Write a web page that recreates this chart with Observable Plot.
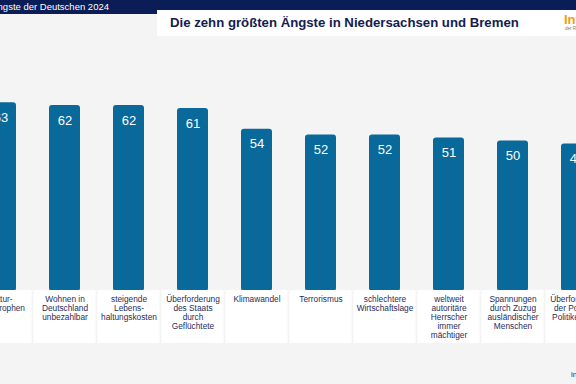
<!DOCTYPE html>
<html>
<head>
<meta charset="utf-8">
<script src="https://cdn.jsdelivr.net/npm/d3@7"></script>
<script src="https://cdn.jsdelivr.net/npm/@observablehq/plot@0.6"></script>
<style>
  html, body { margin: 0; padding: 0; overflow: hidden; background: #f4f4f4; }
  #wrap { position: relative; width: 576px; height: 384px; overflow: hidden; font-family: "Liberation Sans", Arial, sans-serif; }
  #chart { position: absolute; left: 0; top: 0; }
  .band-left { position: absolute; left: 0; top: 0; width: 157px; height: 14px; background: #0a1d57; }
  .band-right { position: absolute; left: 157px; top: 0; width: 419px; height: 10px; background: #0a1d57; }
  .supertitle { position: absolute; right: 467px; top: 1px; color: #fff; font-size: 9.5px; white-space: nowrap; line-height: 12px; }
  .titlebox { position: absolute; left: 157px; top: 10px; width: 419px; height: 26px; background: #fff; }
  .title { position: absolute; left: 170px; top: 15px; color: #14204f; font-size: 13.2px; line-height: 16px; font-weight: bold; white-space: nowrap; }
  .logo { position: absolute; left: 564px; top: 12px; color: #f2a100; font-size: 13px; line-height: 15px; font-weight: bold; white-space: nowrap; }
  .logo-sub { position: absolute; left: 565px; top: 26px; color: #777; font-size: 4.5px; white-space: nowrap; }
  .source { position: absolute; left: 571px; top: 370px; color: #333; font-size: 8px; white-space: nowrap; }
</style>
</head>
<body>
<div id="wrap">
  <div id="chart"></div>
  <div class="band-left"></div>
  <div class="band-right"></div>
  <div class="supertitle">Die Ängste der Deutschen 2024</div>
  <div class="titlebox"></div>
  <div class="title">Die zehn größten Ängste in Niedersachsen und Bremen</div>
  <div class="logo">Infocenter</div>
  <div class="logo-sub">der R+V Versicherung</div>
  <div class="source">infocenter.ruv.de</div>
</div>
<script>
const categories = [
  "Naturkatastrophen", "Wohnen unbezahlbar", "Lebenshaltungskosten", "Überforderung Staat",
  "Klimawandel", "Terrorismus", "Wirtschaftslage", "autoritäre Herrscher",
  "Spannungen Zuzug", "Überforderung Politiker"
];
const values = [63, 62, 62, 61, 54, 52, 52, 51, 50, 49];
const labels = [
  "Natur-\nkatastrophen",
  "Wohnen in\nDeutschland\nunbezahlbar",
  "steigende\nLebens-\nhaltungskosten",
  "Überforderung\ndes Staats\ndurch\nGeflüchtete",
  "Klimawandel",
  "Terrorismus",
  "schlechtere\nWirtschaftslage",
  "weltweit\nautoritäre\nHerrscher\nimmer\nmächtiger",
  "Spannungen\ndurch Zuzug\nausländischer\nMenschen",
  "Überforderung\nder Politiker/\nPolitikerinnen"
];

const data = categories.map((c, i) => ({cat: c, value: values[i], label: labels[i]}));
const barColor = "#08699a";

const chart = Plot.plot({
  width: 576,
  height: 384,
  margin: 0,
  style: {background: "#f4f4f4", fontFamily: "Liberation Sans, Arial, sans-serif", overflow: "hidden"},
  x: {domain: categories, range: [-31.5, 608.5], paddingInner: 0.515, paddingOuter: 0.2575, axis: null},
  y: {domain: [0, 100], range: [288, -7], axis: null},
  marks: [
    Plot.barY(data, {x: "cat", y1: -1, y2: "value", fill: barColor, rx: 3}),
    Plot.barY(data, {x: "cat", y1: -0.68, y2: -18.6, fill: "#ffffff", insetLeft: -15.5, insetRight: -15.5}),
    Plot.text(data, {x: "cat", y: "value", text: d => String(d.value), dy: 15, fill: "#ffffff", fontSize: 13}),
    Plot.text(data, {x: "cat", y: -0.68, text: "label", lineAnchor: "top", dy: 5, fontSize: 8.3, lineHeight: 1.08, fill: "#1f2d5c"})
  ]
});
document.getElementById("chart").appendChild(chart);
</script>
</body>
</html>
